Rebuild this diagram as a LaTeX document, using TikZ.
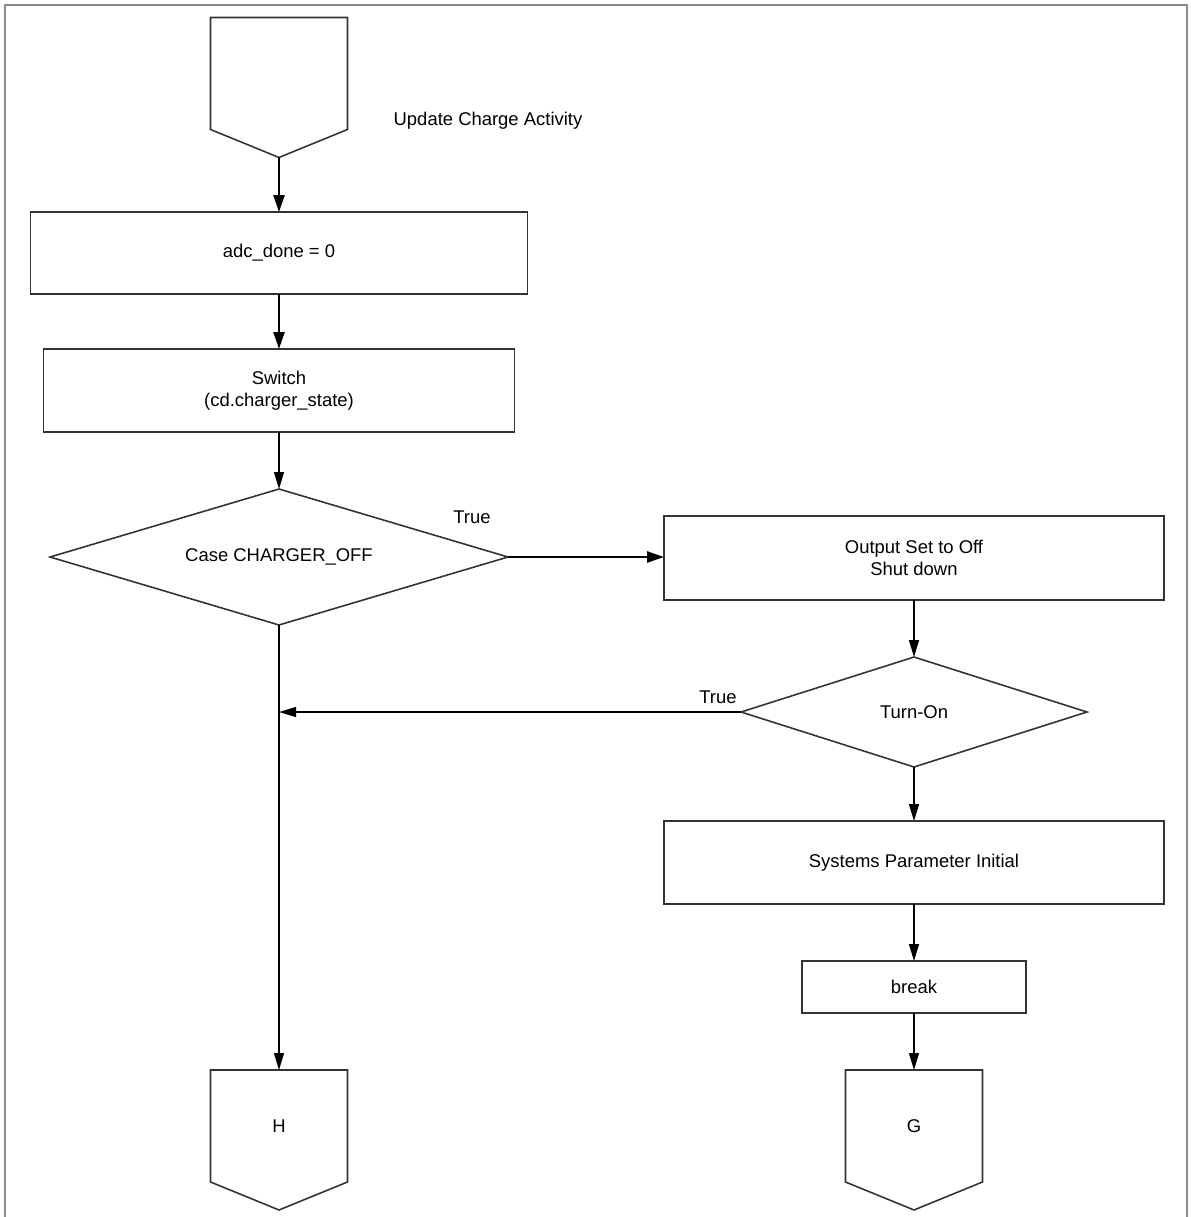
\documentclass[tikz,border=0pt]{standalone}
\usepackage{fontspec}
\setmainfont{Liberation Sans}
\usetikzlibrary{arrows.meta,positioning,shapes.geometric}
\tikzset{
  blk/.style={draw=black!80, rectangle, line width=1pt, align=center, font=\fontsize{10.5}{12.5}\selectfont, outer sep=0pt},
  dmd/.style={draw=black!80, diamond, aspect=3, line width=0.9pt, align=center, font=\fontsize{10.5}{12.5}\selectfont, inner sep=0pt, outer sep=0pt},
  conn/.style={rectangle, align=center, font=\fontsize{10.5}{12.5}\selectfont, minimum width=2.74cm, minimum height=2.24cm, outer sep=0pt},
  shp/.style={draw=black!80, line width=0.9pt, line join=miter},
  lbl/.style={font=\fontsize{10.5}{12.5}\selectfont},
  arr/.style={-{Triangle[length=3.4mm, width=2mm]}, line width=0.8pt},
  barr/.style={-{Triangle[length=3.4mm, width=2.2mm]}, line width=1.4pt},
}
\begin{document}
\begin{tikzpicture}[x=0.02cm, y=-0.02cm]

\useasboundingbox (0,0) rectangle (1190,1217);
\draw[black!45, line width=1.2pt] (5,1217) -- (5,5) -- (1187,5) -- (1187,1217);

% Start connector
\node[conn] (start) at (279,73.5) {};
\coordinate (startTip) at ([yshift=-0.56cm]start.south);
\node[lbl] (title) at (488,121) {Update Charge Activity};

% Left column
\node[blk, minimum width=9.94cm, minimum height=1.64cm] (adc) at (279,253) {adc\_done = 0};
\node[blk, minimum width=9.42cm, minimum height=1.66cm] (sw) at (279,390.5)
  {Switch\\(cd.charger\_state)};
\node[dmd, minimum width=9.16cm, minimum height=2.72cm] (case) at (279,557) {Case CHARGER\_OFF};
\node[lbl] (trueA) at (472,517) {True};

% Right column
\node[blk, minimum width=10cm, minimum height=1.68cm] (out) at (914,558)
  {Output Set to Off\\Shut down};
\node[dmd, minimum width=6.92cm, minimum height=2.2cm] (turn) at (914,712) {Turn-On};
\node[lbl] (trueB) at (718,697) {True};
\node[blk, minimum width=10cm, minimum height=1.66cm] (sys) at (914,862.5) {Systems Parameter Initial};
\node[blk, minimum width=4.48cm, minimum height=1.04cm] (brk) at (914,987) {break};

% Off-page connectors
\node[conn] (conH) at (279,1126) {H};
\node[conn] (conG) at (914,1126) {G};
\foreach \n in {start,conH,conG}
  \draw[shp] (\n.north west) -- (\n.north east) -- (\n.south east)
    -- ([yshift=-0.56cm]\n.south) -- (\n.south west) -- cycle;

% Arrows
\draw[barr] (startTip) -- (adc);
\draw[barr] (adc) -- (sw);
\draw[arr] (sw) -- (case);
\draw[barr] (case.east) -- (case.east -| out.west);
\draw[arr] (case) -- (conH);
\draw[arr] (out) -- (turn);
\draw[arr] (turn.west) -- (turn.west -| case.south);
\draw[arr] (turn) -- (sys);
\draw[arr] (sys) -- (brk);
\draw[arr] (brk) -- (conG);

\end{tikzpicture}
\end{document}
